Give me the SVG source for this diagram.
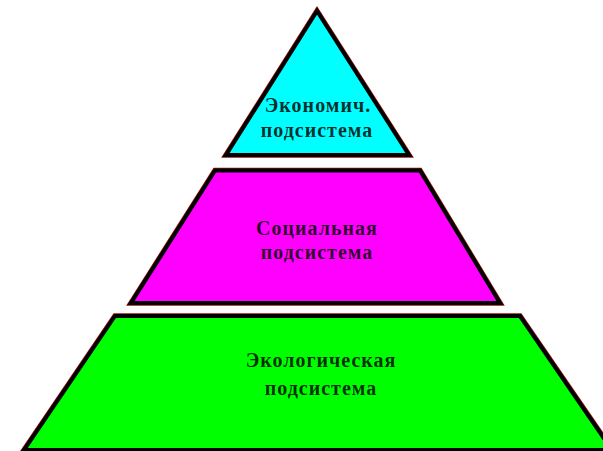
<svg xmlns="http://www.w3.org/2000/svg" width="603" height="451" viewBox="0 0 603 451">
<style>
.halo{fill:none;stroke:#9a1010;stroke-width:5.4;stroke-linejoin:miter}
.edge{stroke:#000;stroke-width:4;stroke-linejoin:miter}
.lbl{font-family:"Liberation Serif","Times New Roman",serif;font-weight:bold;font-size:20px;letter-spacing:1px;text-anchor:middle;fill:#000;fill-opacity:0.82}
</style>
<rect width="603" height="451" fill="#fff"/>
<g id="econ">
<polygon class="halo" points="317,11 226,155 409,155"/>
<polygon class="edge" fill="#00ffff" points="317,11 226,155 409,155"/>
<text class="lbl" x="318" y="112">Экономич.</text>
<text class="lbl" x="317" y="137">подсистема</text>
</g>
<g id="social">
<polygon class="halo" points="215,170.5 420,170.5 500,303 131,303"/>
<polygon class="edge" fill="#ff00ff" points="215,170.5 420,170.5 500,303 131,303"/>
<text class="lbl" x="317" y="235">Социальная</text>
<text class="lbl" x="317" y="259">подсистема</text>
</g>
<g id="eco">
<polygon class="halo" points="115,316 520,316 612,450 24,450"/>
<polygon class="edge" fill="#00ff00" points="115,316 520,316 612,450 24,450"/>
<text class="lbl" x="321" y="367">Экологическая</text>
<text class="lbl" x="321" y="395">подсистема</text>
</g>
<g id="connectors"/>
</svg>
